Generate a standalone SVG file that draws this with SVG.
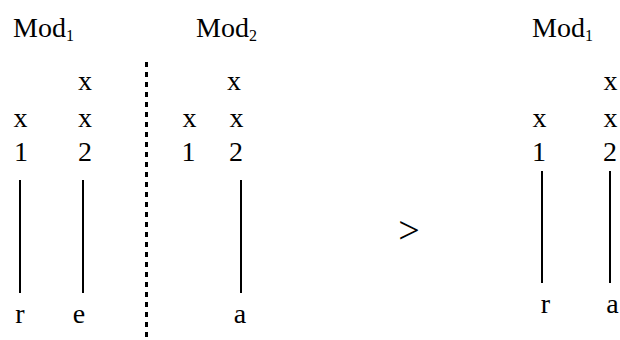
<svg xmlns="http://www.w3.org/2000/svg" width="620" height="340" viewBox="0 0 620 340">
<style>
.t{font-family:'Liberation Serif',serif;font-size:28px;fill:#000}
.c{text-anchor:middle}
.sub{font-size:16px}
.ln{stroke:#000;stroke-width:2;fill:none}
.dash{stroke:#000;stroke-width:3;stroke-dasharray:5 5;fill:none}
</style>
<rect width="620" height="340" fill="#fff"/>
<g id="mod1-left">
<text class="t" style="font-family:'Liberation Serif',serif" x="13" y="37">Mod<tspan class="sub" dy="4">1</tspan></text>
<text class="t c" style="font-family:'Liberation Serif',serif" x="85" y="90">x</text>
<text class="t c" style="font-family:'Liberation Serif',serif" x="20.5" y="127">x</text>
<text class="t c" style="font-family:'Liberation Serif',serif" x="85" y="127">x</text>
<text class="t c" style="font-family:'Liberation Serif',serif" x="21" y="161">1</text>
<text class="t c" style="font-family:'Liberation Serif',serif" x="85" y="161">2</text>
<text class="t c" style="font-family:'Liberation Serif',serif" x="20" y="323">r</text>
<text class="t c" style="font-family:'Liberation Serif',serif" x="79" y="323">e</text>
</g>
<g id="mod2">
<text class="t" style="font-family:'Liberation Serif',serif" x="196" y="37">Mod<tspan class="sub" dy="4">2</tspan></text>
<text class="t c" style="font-family:'Liberation Serif',serif" x="234" y="90">x</text>
<text class="t c" style="font-family:'Liberation Serif',serif" x="189.5" y="127">x</text>
<text class="t c" style="font-family:'Liberation Serif',serif" x="236.5" y="127">x</text>
<text class="t c" style="font-family:'Liberation Serif',serif" x="188.5" y="161">1</text>
<text class="t c" style="font-family:'Liberation Serif',serif" x="236" y="161">2</text>
<text class="t c" style="font-family:'Liberation Serif',serif" x="240" y="323">a</text>
</g>
<g id="mod1-right">
<text class="t" style="font-family:'Liberation Serif',serif" x="532" y="37">Mod<tspan class="sub" dy="4">1</tspan></text>
<text class="t c" style="font-family:'Liberation Serif',serif" x="610.5" y="90">x</text>
<text class="t c" style="font-family:'Liberation Serif',serif" x="539.5" y="127">x</text>
<text class="t c" style="font-family:'Liberation Serif',serif" x="610.5" y="127">x</text>
<text class="t c" style="font-family:'Liberation Serif',serif" x="539" y="161">1</text>
<text class="t c" style="font-family:'Liberation Serif',serif" x="610" y="161">2</text>
<text class="t c" style="font-family:'Liberation Serif',serif" x="545.5" y="313">r</text>
<text class="t c" style="font-family:'Liberation Serif',serif" x="612.5" y="313">a</text>
</g>
<g id="gt">
<text class="t c" style="font-family:'Liberation Serif',serif;font-size:38px" x="409" y="243">&gt;</text>
</g>
<g id="connectors">
<line class="ln" x1="20" y1="180" x2="20" y2="293"/>
<line class="ln" x1="83" y1="180" x2="83" y2="293"/>
<line class="ln" x1="241" y1="180" x2="241" y2="293"/>
<line class="ln" x1="542" y1="171" x2="542" y2="283"/>
<line class="ln" x1="610" y1="171" x2="610" y2="283"/>
<line class="dash" x1="146.5" y1="62" x2="146.5" y2="340"/>
</g>
</svg>
